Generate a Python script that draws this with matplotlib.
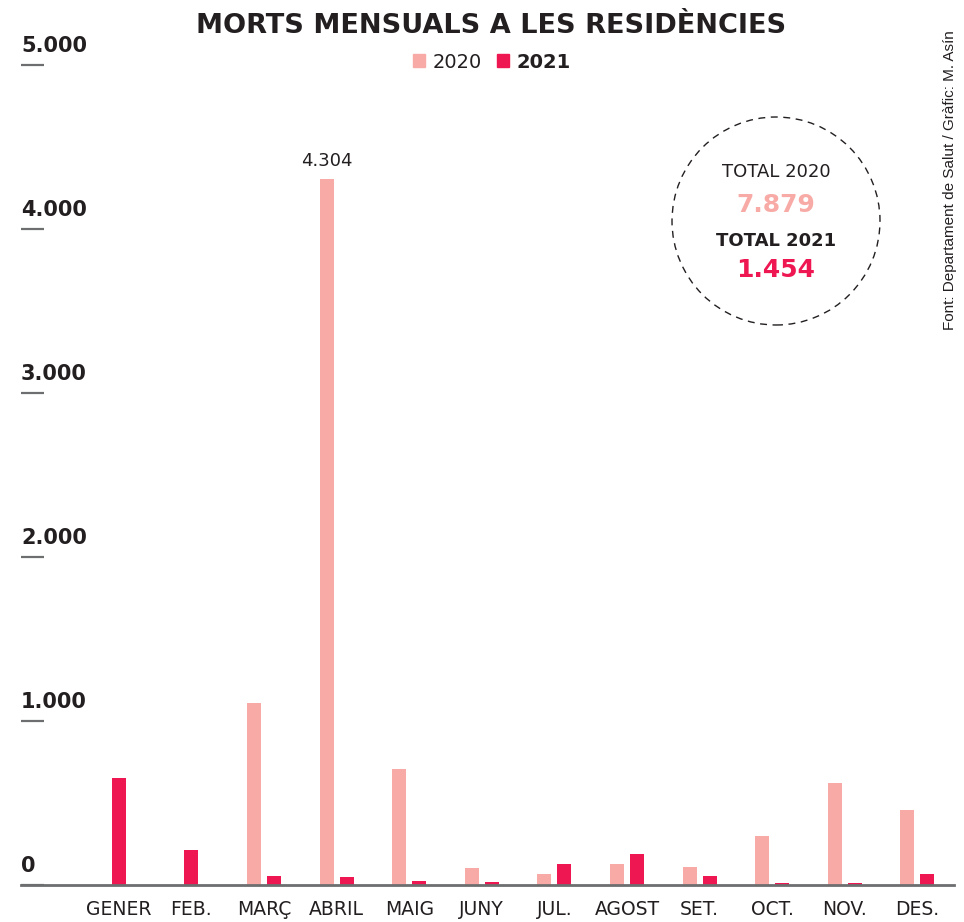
import numpy as np
import matplotlib
matplotlib.use('Agg')
import matplotlib.pyplot as plt
from matplotlib.patches import Ellipse, Patch

# Monthly deaths in care homes
months = ["GENER", "FEB.", "MARÇ", "ABRIL", "MAIG", "JUNY",
          "JUL.", "AGOST", "SET.", "OCT.", "NOV.", "DES."]
deaths_2020 = [np.nan, np.nan, 1108, 4304, 705, 102, 65, 128, 108, 299, 620, 455]
deaths_2021 = [650, 211, 53, 47, 23, 18, 128, 189, 53, 12, 12, 67]
total_2020 = "7.879"
total_2021 = "1.454"
yticks = [0, 1000, 2000, 3000, 4000, 5000]
ytick_labels = ["0", "1.000", "2.000", "3.000", "4.000", "5.000"]

C20 = '#f8aba6'
C21 = '#ee1751'
DARK = '#231f20'
GREY = '#6d6e70'

W, H = 964, 922
fig = plt.figure(figsize=(W / 100, H / 100), dpi=100)
ax = fig.add_axes([21 / W, (H - 885) / H, (954 - 21) / W, (885 - 65) / H])

x = np.arange(len(months))
bw = 0.193
off = 0.138
for i in x:
    v20, v21 = deaths_2020[i], deaths_2021[i]
    if np.isnan(v20):
        ax.bar(i, v21, width=bw, color=C21, zorder=2)
    else:
        ax.bar(i - off, v20, width=bw, color=C20, zorder=2)
        ax.bar(i + off, v21, width=bw, color=C21, zorder=2)

# label on the peak
imax = int(np.nanargmax(deaths_2020))
ax.annotate("4.304", xy=(imax - off, deaths_2020[imax]), xytext=(0, 6.5),
            textcoords='offset points', ha='center', va='bottom',
            fontsize=13, color=DARK)

ax.set_xlim(-1.347, 11.504)
ax.set_ylim(0, 5000)
for s in ['top', 'right', 'left']:
    ax.spines[s].set_visible(False)
ax.spines['bottom'].set_color(GREY)
ax.spines['bottom'].set_linewidth(2)
ax.spines['bottom'].set_zorder(3)

ax.set_xticks(x)
ax.set_xticklabels(months, fontsize=13.5, color=DARK)
ax.tick_params(axis='x', length=0, pad=11)

ax.set_yticks(yticks)
ax.set_yticklabels([])
ax.tick_params(axis='y', direction='in', length=16.5, width=1.6, color=GREY)
for v, lab in zip(yticks, ytick_labels):
    ax.annotate(lab, xy=(0, v), xycoords=ax.get_yaxis_transform(),
                xytext=(0, 6.5), textcoords='offset points',
                ha='left', va='bottom', fontsize=15, fontweight='bold', color=DARK)

# title and legend
fig.text(491 / W, 1 - 26 / H, "MORTS MENSUALS A LES RESIDÈNCIES", ha='center', va='center',
         fontsize=19.5, fontweight='heavy', color=DARK)
leg = fig.legend(handles=[Patch(color=C20, label="2020"), Patch(color=C21, label="2021")],
                 loc='center', bbox_to_anchor=(492 / W, 1 - 62 / H), ncol=2, frameon=False,
                 fontsize=14, handlelength=0.6, handleheight=0.6, handletextpad=0.4,
                 columnspacing=0.8)
for t in leg.get_texts():
    t.set_color(DARK)
leg.get_texts()[1].set_fontweight('bold')

# totals inside a dashed circle
cx, cy, r = 776, 221, 104
fig.patches.append(Ellipse((cx / W, 1 - cy / H), 2 * r / W, 2 * r / H, transform=fig.transFigure,
                           fill=False, edgecolor=DARK, linewidth=1, linestyle=(0, (5, 4))))
fig.text(cx / W, 1 - 172 / H, "TOTAL 2020", ha='center', va='center', fontsize=13, color=DARK)
fig.text(cx / W, 1 - 205 / H, total_2020, ha='center', va='center', fontsize=18,
         fontweight='bold', color=C20)
fig.text(cx / W, 1 - 241 / H, "TOTAL 2021", ha='center', va='center', fontsize=13,
         fontweight='bold', color=DARK)
fig.text(cx / W, 1 - 270 / H, total_2021, ha='center', va='center', fontsize=18,
         fontweight='bold', color=C21)

# source
fig.text(950 / W, 1 - 180 / H, "Font: Departament de Salut / Gràfic: M. Asín", rotation=90,
         ha='center', va='center', fontsize=11, color=DARK,
         family=['Liberation Sans', 'DejaVu Sans'])

fig.savefig('out.png', dpi=100)
